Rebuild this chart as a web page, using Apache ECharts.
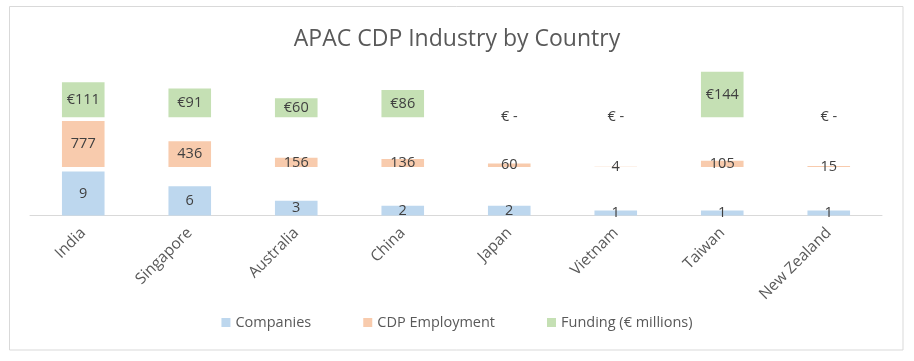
<!DOCTYPE html>
<html>
<head>
<meta charset="utf-8">
<script src="https://cdn.jsdelivr.net/npm/echarts@6/dist/echarts.min.js"></script>
<style>
html,body{margin:0;padding:0;background:#fff;}
#chart{width:914px;height:361px;}
</style>
</head>
<body>
<div id="chart"></div>
<script>
const categories = ['India','Singapore','Australia','China','Japan','Vietnam','Taiwan','New Zealand'];
const companies = [9, 6, 3, 2, 2, 1, 1, 1];
const employment = [777, 436, 156, 136, 60, 4, 105, 15];
const funding = [111, 91, 60, 86, 0, 0, 144, 0];
const titleText = 'APAC CDP Industry by Country';
const seriesNames = ['Companies', 'CDP Employment', 'Funding (\u20ac millions)'];

const FONT = 'Open Sans';
const chart = echarts.init(document.getElementById('chart'), null, {renderer: 'canvas'});

const gridLeft = 30, gridRight = 32;
const grids = [
  {left: gridLeft, right: gridRight, top: 171.5, height: 44},   // companies
  {left: gridLeft, right: gridRight, top: 121, height: 46},     // employment
  {left: gridLeft, right: gridRight, top: 71.7, height: 45.6}   // funding
];

function xAxis(i, show) {
  return {
    type: 'category', gridIndex: i, data: categories,
    axisLine: {show: show, lineStyle: {color: '#d9d9d9', width: 1}},
    axisTick: {show: false},
    axisLabel: show ? {show: true, rotate: 45, color: '#595959', fontFamily: FONT, fontSize: 15.5, margin: 15} : {show: false}
  };
}
function yAxis(i, maxv) {
  return {type: 'value', gridIndex: i, min: 0, max: maxv, show: false, splitLine: {show: false}};
}
const labelBase = {show: true, position: 'inside', color: '#404040', fontFamily: FONT, fontSize: 14.5};

const option = {
  backgroundColor: '#fff',
  animation: false,
  title: {
    text: titleText, left: 'center', top: 23,
    textStyle: {color: '#595959', fontFamily: FONT, fontSize: 23, fontWeight: 'normal'}
  },
  legend: {
    bottom: 26, left: 'center', itemWidth: 9, itemHeight: 9, itemGap: 52,
    icon: 'rect',
    textStyle: {color: '#595959', fontFamily: FONT, fontSize: 14.5},
    data: seriesNames
  },
  grid: grids,
  xAxis: [xAxis(0, true), xAxis(1, false), xAxis(2, false)],
  yAxis: [yAxis(0, Math.max(...companies)), yAxis(1, Math.max(...employment)), yAxis(2, Math.max(...funding))],
  series: [
    {name: seriesNames[0], type: 'bar', xAxisIndex: 0, yAxisIndex: 0, data: companies,
     barCategoryGap: '60%', itemStyle: {color: '#BDD7EE'}, label: labelBase},
    {name: seriesNames[1], type: 'bar', xAxisIndex: 1, yAxisIndex: 1, data: employment,
     barCategoryGap: '60%', itemStyle: {color: '#F8CBAD'}, label: labelBase},
    {name: seriesNames[2], type: 'bar', xAxisIndex: 2, yAxisIndex: 2, data: funding,
     barCategoryGap: '60%', itemStyle: {color: '#C5E0B4'},
     label: Object.assign({}, labelBase, {formatter: p => p.value === 0 ? '\u20ac -' : '\u20ac' + p.value})}
  ],
  graphic: [{
    type: 'rect', shape: {x: 9.5, y: 6.5, width: 893.5, height: 343.5},
    style: {fill: 'none', stroke: '#d9d9d9', lineWidth: 1}, silent: true, z: -1
  }]
};
chart.setOption(option);
</script>
</body>
</html>
